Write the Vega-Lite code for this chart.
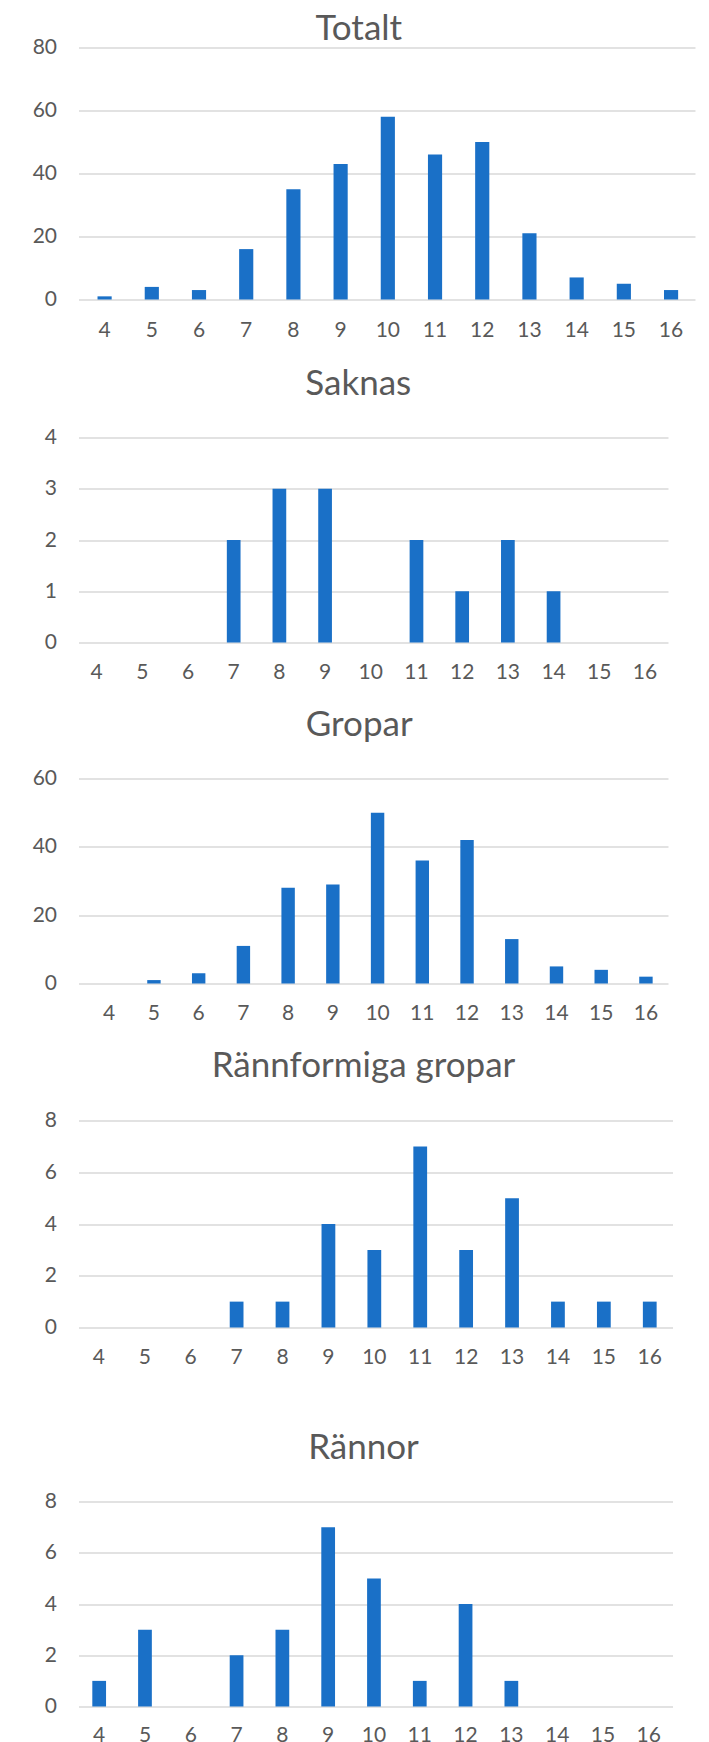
{
  "$schema": "https://vega.github.io/schema/vega-lite/v6.json",
  "background": "white",
  "padding": {"left": 31.5, "top": 11.5, "right": 0, "bottom": 0},
  "datasets": {
    "totalt": [
      {"klass": 4, "antal": 1}, {"klass": 5, "antal": 4}, {"klass": 6, "antal": 3}, {"klass": 7, "antal": 16},
      {"klass": 8, "antal": 35}, {"klass": 9, "antal": 43}, {"klass": 10, "antal": 58}, {"klass": 11, "antal": 46},
      {"klass": 12, "antal": 50}, {"klass": 13, "antal": 21}, {"klass": 14, "antal": 7}, {"klass": 15, "antal": 5},
      {"klass": 16, "antal": 3}
    ],
    "saknas": [
      {"klass": 4, "antal": 0}, {"klass": 5, "antal": 0}, {"klass": 6, "antal": 0}, {"klass": 7, "antal": 2},
      {"klass": 8, "antal": 3}, {"klass": 9, "antal": 3}, {"klass": 10, "antal": 0}, {"klass": 11, "antal": 2},
      {"klass": 12, "antal": 1}, {"klass": 13, "antal": 2}, {"klass": 14, "antal": 1}, {"klass": 15, "antal": 0},
      {"klass": 16, "antal": 0}
    ],
    "gropar": [
      {"klass": 4, "antal": 0}, {"klass": 5, "antal": 1}, {"klass": 6, "antal": 3}, {"klass": 7, "antal": 11},
      {"klass": 8, "antal": 28}, {"klass": 9, "antal": 29}, {"klass": 10, "antal": 50}, {"klass": 11, "antal": 36},
      {"klass": 12, "antal": 42}, {"klass": 13, "antal": 13}, {"klass": 14, "antal": 5}, {"klass": 15, "antal": 4},
      {"klass": 16, "antal": 2}
    ],
    "rannformiga": [
      {"klass": 4, "antal": 0}, {"klass": 5, "antal": 0}, {"klass": 6, "antal": 0}, {"klass": 7, "antal": 1},
      {"klass": 8, "antal": 1}, {"klass": 9, "antal": 4}, {"klass": 10, "antal": 3}, {"klass": 11, "antal": 7},
      {"klass": 12, "antal": 3}, {"klass": 13, "antal": 5}, {"klass": 14, "antal": 1}, {"klass": 15, "antal": 1},
      {"klass": 16, "antal": 1}
    ],
    "rannor": [
      {"klass": 4, "antal": 1}, {"klass": 5, "antal": 3}, {"klass": 6, "antal": 0}, {"klass": 7, "antal": 2},
      {"klass": 8, "antal": 3}, {"klass": 9, "antal": 7}, {"klass": 10, "antal": 5}, {"klass": 11, "antal": 1},
      {"klass": 12, "antal": 4}, {"klass": 13, "antal": 1}, {"klass": 14, "antal": 0}, {"klass": 15, "antal": 0},
      {"klass": 16, "antal": 0}
    ]
  },
  "config": {
    "view": {"stroke": null},
    "font": "Lato",
    "bar": {"color": "#1a70c7"},
    "axis": {
      "labelFont": "Lato", "labelFontSize": 21, "labelColor": "#595959",
      "ticks": false, "domain": false, "title": null,
      "gridColor": "#d9d9d9", "gridWidth": 1.6
    },
    "axisX": {"grid": false, "labelAngle": 0},
    "axisY": {"labelPadding": 22},
    "title": {
      "font": "Lato", "fontSize": 35, "fontWeight": "normal", "color": "#595959",
      "anchor": "middle", "frame": "group", "baseline": "middle"
    }
  },
  "spacing": 63,
  "vconcat": [
    {
      "spacing": 25,
      "vconcat": [
        {
          "title": {"text": "Totalt", "offset": -10.3, "dx": -28},
          "width": 616.5, "height": 252,
          "data": {"name": "totalt"},
          "mark": {"type": "bar"},
          "encoding": {
            "x": {"field": "klass", "type": "ordinal", "scale": {"domain": [4,5,6,7,8,9,10,11,12,13,14,15,16], "paddingInner": 0.7, "paddingOuter": 0.38, "align": 0.53}, "axis": {"labelPadding": 20.3}},
            "y": {"field": "antal", "type": "quantitative", "scale": {"domain": [0, 80]}, "axis": {"values": [0, 20, 40, 60, 80]}}
          }
        },
        {
          "title": {"text": "Saknas", "offset": 24.5, "dx": -15},
          "width": 589.5, "height": 205,
          "data": {"name": "saknas"},
          "mark": {"type": "bar"},
          "encoding": {
            "x": {"field": "klass", "type": "ordinal", "scale": {"domain": [4,5,6,7,8,9,10,11,12,13,14,15,16], "paddingInner": 0.7, "paddingOuter": 0.3, "align": 0.41}, "axis": {"labelPadding": 18.8}},
            "y": {"field": "antal", "type": "quantitative", "scale": {"domain": [0, 4]}, "axis": {"values": [0, 1, 2, 3, 4]}}
          }
        },
        {
          "title": {"text": "Gropar", "offset": 24.2, "dx": -14},
          "width": 589.5, "height": 205,
          "data": {"name": "gropar"},
          "mark": {"type": "bar"},
          "encoding": {
            "x": {"field": "klass", "type": "ordinal", "scale": {"domain": [4,5,6,7,8,9,10,11,12,13,14,15,16], "paddingInner": 0.7, "paddingOuter": 0.44, "align": 0.61}, "axis": {"labelPadding": 18.8}},
            "y": {"field": "antal", "type": "quantitative", "scale": {"domain": [0, 60]}, "axis": {"values": [0, 20, 40, 60]}}
          }
        },
        {
          "title": {"text": "Rännformiga gropar", "offset": 26, "dx": -12},
          "width": 594, "height": 207,
          "data": {"name": "rannformiga"},
          "mark": {"type": "bar"},
          "encoding": {
            "x": {"field": "klass", "type": "ordinal", "scale": {"domain": [4,5,6,7,8,9,10,11,12,13,14,15,16], "paddingInner": 0.7, "paddingOuter": 0.32, "align": 0.46}, "axis": {"labelPadding": 18.8}},
            "y": {"field": "antal", "type": "quantitative", "scale": {"domain": [0, 8]}, "axis": {"values": [0, 2, 4, 6, 8]}}
          }
        }
      ]
    },
    {
      "title": {"text": "Rännor", "offset": 24.7, "dx": -12},
      "width": 594, "height": 205,
      "data": {"name": "rannor"},
      "mark": {"type": "bar"},
      "encoding": {
        "x": {"field": "klass", "type": "ordinal", "scale": {"domain": [4,5,6,7,8,9,10,11,12,13,14,15,16], "paddingInner": 0.7, "paddingOuter": 0.335, "align": 0.45}, "axis": {"labelPadding": 17.8}},
        "y": {"field": "antal", "type": "quantitative", "scale": {"domain": [0, 8]}, "axis": {"values": [0, 2, 4, 6, 8]}}
      }
    }
  ]
}
